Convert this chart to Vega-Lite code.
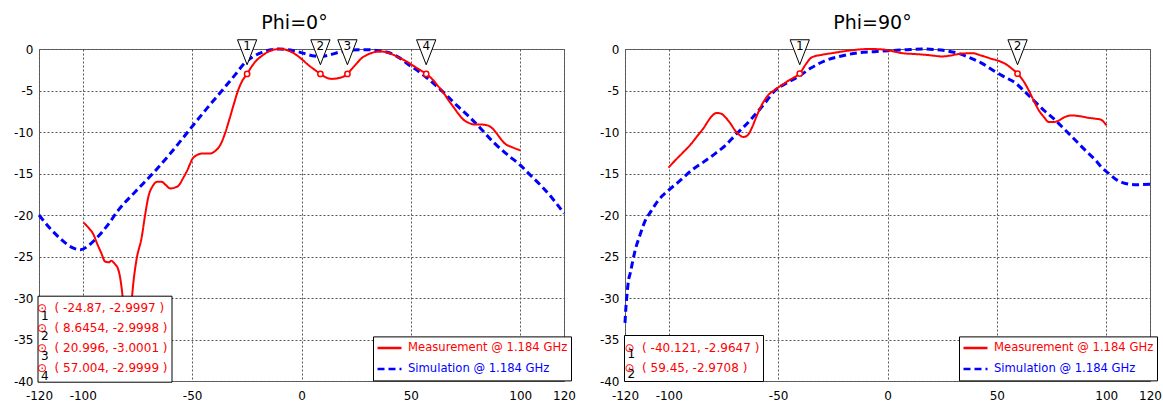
{
  "$schema": "https://vega.github.io/schema/vega-lite/v6.json",
  "padding": {"left": 12, "top": 13, "right": 5, "bottom": 5},
  "background": "white",
  "config": {
    "font": "DejaVu Sans",
    "view": {"stroke": "#666", "strokeWidth": 1},
    "axis": {"grid": true, "gridColor": "#555", "gridDash": [2, 2], "gridWidth": 1, "domain": false, "ticks": false, "tickSize": 0, "labelFontSize": 12, "labelColor": "#000", "labelFont": "DejaVu Sans", "title": null, "labelFlush": false, "labelOverlap": false, "labelExpr": "'' + datum.value"},
    "axisX": {"labelPadding": 9},
    "axisY": {"labelPadding": 6},
    "legend": {"labelLimit": 400},
    "title": {"fontSize": 19, "fontWeight": "normal", "color": "#000", "font": "DejaVu Sans", "anchor": "middle", "baseline": "alphabetic"}
  },
  "bounds": "flush",
  "spacing": 61,
  "resolve": {
    "scale": {"shape": "independent", "opacity": "independent"},
    "legend": {"color": "independent", "strokeDash": "independent", "shape": "independent", "opacity": "independent"}
  },
  "datasets": {
    "sim0": [
      {"series": "Simulation @ 1.184 GHz", "angle": -120, "gain": -20.0},
      {"series": "Simulation @ 1.184 GHz", "angle": -115, "gain": -21.6},
      {"series": "Simulation @ 1.184 GHz", "angle": -110, "gain": -22.9},
      {"series": "Simulation @ 1.184 GHz", "angle": -105, "gain": -23.9},
      {"series": "Simulation @ 1.184 GHz", "angle": -101, "gain": -24.2},
      {"series": "Simulation @ 1.184 GHz", "angle": -97, "gain": -23.6},
      {"series": "Simulation @ 1.184 GHz", "angle": -93, "gain": -22.6},
      {"series": "Simulation @ 1.184 GHz", "angle": -88, "gain": -21.0},
      {"series": "Simulation @ 1.184 GHz", "angle": -84, "gain": -19.5},
      {"series": "Simulation @ 1.184 GHz", "angle": -76, "gain": -17.2},
      {"series": "Simulation @ 1.184 GHz", "angle": -68, "gain": -15.0},
      {"series": "Simulation @ 1.184 GHz", "angle": -60, "gain": -12.6},
      {"series": "Simulation @ 1.184 GHz", "angle": -52, "gain": -10.0},
      {"series": "Simulation @ 1.184 GHz", "angle": -44, "gain": -7.4},
      {"series": "Simulation @ 1.184 GHz", "angle": -36, "gain": -4.9},
      {"series": "Simulation @ 1.184 GHz", "angle": -30, "gain": -3.0},
      {"series": "Simulation @ 1.184 GHz", "angle": -26, "gain": -1.7},
      {"series": "Simulation @ 1.184 GHz", "angle": -22, "gain": -0.9},
      {"series": "Simulation @ 1.184 GHz", "angle": -18, "gain": -0.4},
      {"series": "Simulation @ 1.184 GHz", "angle": -14, "gain": -0.1},
      {"series": "Simulation @ 1.184 GHz", "angle": -10, "gain": 0},
      {"series": "Simulation @ 1.184 GHz", "angle": -6, "gain": -0.1},
      {"series": "Simulation @ 1.184 GHz", "angle": -2, "gain": -0.3},
      {"series": "Simulation @ 1.184 GHz", "angle": 2, "gain": -0.6},
      {"series": "Simulation @ 1.184 GHz", "angle": 6, "gain": -0.85},
      {"series": "Simulation @ 1.184 GHz", "angle": 9, "gain": -0.9},
      {"series": "Simulation @ 1.184 GHz", "angle": 13, "gain": -0.7},
      {"series": "Simulation @ 1.184 GHz", "angle": 17, "gain": -0.4},
      {"series": "Simulation @ 1.184 GHz", "angle": 21, "gain": -0.2},
      {"series": "Simulation @ 1.184 GHz", "angle": 26, "gain": -0.1},
      {"series": "Simulation @ 1.184 GHz", "angle": 31, "gain": -0.1},
      {"series": "Simulation @ 1.184 GHz", "angle": 35, "gain": -0.2},
      {"series": "Simulation @ 1.184 GHz", "angle": 40, "gain": -0.45},
      {"series": "Simulation @ 1.184 GHz", "angle": 45, "gain": -1.1},
      {"series": "Simulation @ 1.184 GHz", "angle": 49, "gain": -1.9},
      {"series": "Simulation @ 1.184 GHz", "angle": 53, "gain": -2.6},
      {"series": "Simulation @ 1.184 GHz", "angle": 57, "gain": -3.4},
      {"series": "Simulation @ 1.184 GHz", "angle": 61, "gain": -4.3},
      {"series": "Simulation @ 1.184 GHz", "angle": 66, "gain": -5.5},
      {"series": "Simulation @ 1.184 GHz", "angle": 71, "gain": -6.8},
      {"series": "Simulation @ 1.184 GHz", "angle": 76, "gain": -8.0},
      {"series": "Simulation @ 1.184 GHz", "angle": 82, "gain": -9.6},
      {"series": "Simulation @ 1.184 GHz", "angle": 88, "gain": -11.3},
      {"series": "Simulation @ 1.184 GHz", "angle": 94, "gain": -12.7},
      {"series": "Simulation @ 1.184 GHz", "angle": 100, "gain": -14.0},
      {"series": "Simulation @ 1.184 GHz", "angle": 105, "gain": -15.3},
      {"series": "Simulation @ 1.184 GHz", "angle": 110, "gain": -16.6},
      {"series": "Simulation @ 1.184 GHz", "angle": 115, "gain": -18.1},
      {"series": "Simulation @ 1.184 GHz", "angle": 120, "gain": -19.8}
    ],
    "meas0": [
      {"series": "Measurement @ 1.184 GHz", "angle": -99.7, "gain": -20.9},
      {"series": "Measurement @ 1.184 GHz", "angle": -97.5, "gain": -21.5},
      {"series": "Measurement @ 1.184 GHz", "angle": -95, "gain": -22.4},
      {"series": "Measurement @ 1.184 GHz", "angle": -93.5, "gain": -23.4},
      {"series": "Measurement @ 1.184 GHz", "angle": -91.5, "gain": -24.6},
      {"series": "Measurement @ 1.184 GHz", "angle": -89.8, "gain": -25.6},
      {"series": "Measurement @ 1.184 GHz", "angle": -88, "gain": -25.7},
      {"series": "Measurement @ 1.184 GHz", "angle": -87, "gain": -25.5},
      {"series": "Measurement @ 1.184 GHz", "angle": -86, "gain": -25.7},
      {"series": "Measurement @ 1.184 GHz", "angle": -85, "gain": -26.0},
      {"series": "Measurement @ 1.184 GHz", "angle": -84, "gain": -26.4},
      {"series": "Measurement @ 1.184 GHz", "angle": -83, "gain": -27.4},
      {"series": "Measurement @ 1.184 GHz", "angle": -82, "gain": -29.3},
      {"series": "Measurement @ 1.184 GHz", "angle": -81, "gain": -32.0},
      {"series": "Measurement @ 1.184 GHz", "angle": -80, "gain": -34.5},
      {"series": "Measurement @ 1.184 GHz", "angle": -79, "gain": -34.0},
      {"series": "Measurement @ 1.184 GHz", "angle": -78, "gain": -31.5},
      {"series": "Measurement @ 1.184 GHz", "angle": -77, "gain": -28.5},
      {"series": "Measurement @ 1.184 GHz", "angle": -75.5, "gain": -25.5},
      {"series": "Measurement @ 1.184 GHz", "angle": -73, "gain": -22.6},
      {"series": "Measurement @ 1.184 GHz", "angle": -71.5, "gain": -20.0},
      {"series": "Measurement @ 1.184 GHz", "angle": -70, "gain": -17.8},
      {"series": "Measurement @ 1.184 GHz", "angle": -68, "gain": -16.5},
      {"series": "Measurement @ 1.184 GHz", "angle": -66, "gain": -16.0},
      {"series": "Measurement @ 1.184 GHz", "angle": -64, "gain": -16.0},
      {"series": "Measurement @ 1.184 GHz", "angle": -62, "gain": -16.4},
      {"series": "Measurement @ 1.184 GHz", "angle": -60, "gain": -16.8},
      {"series": "Measurement @ 1.184 GHz", "angle": -58, "gain": -16.7},
      {"series": "Measurement @ 1.184 GHz", "angle": -56, "gain": -16.4},
      {"series": "Measurement @ 1.184 GHz", "angle": -54, "gain": -15.5},
      {"series": "Measurement @ 1.184 GHz", "angle": -52, "gain": -14.5},
      {"series": "Measurement @ 1.184 GHz", "angle": -50, "gain": -13.3},
      {"series": "Measurement @ 1.184 GHz", "angle": -48, "gain": -12.8},
      {"series": "Measurement @ 1.184 GHz", "angle": -45.5, "gain": -12.6},
      {"series": "Measurement @ 1.184 GHz", "angle": -42, "gain": -12.6},
      {"series": "Measurement @ 1.184 GHz", "angle": -39.5, "gain": -12.3},
      {"series": "Measurement @ 1.184 GHz", "angle": -37, "gain": -11.5},
      {"series": "Measurement @ 1.184 GHz", "angle": -35, "gain": -10.2},
      {"series": "Measurement @ 1.184 GHz", "angle": -33, "gain": -8.5},
      {"series": "Measurement @ 1.184 GHz", "angle": -31, "gain": -6.7},
      {"series": "Measurement @ 1.184 GHz", "angle": -29, "gain": -5.0},
      {"series": "Measurement @ 1.184 GHz", "angle": -27, "gain": -3.8},
      {"series": "Measurement @ 1.184 GHz", "angle": -24.87, "gain": -2.9997},
      {"series": "Measurement @ 1.184 GHz", "angle": -23, "gain": -2.2},
      {"series": "Measurement @ 1.184 GHz", "angle": -21, "gain": -1.5},
      {"series": "Measurement @ 1.184 GHz", "angle": -18, "gain": -0.8},
      {"series": "Measurement @ 1.184 GHz", "angle": -15, "gain": -0.3},
      {"series": "Measurement @ 1.184 GHz", "angle": -12, "gain": -0.05},
      {"series": "Measurement @ 1.184 GHz", "angle": -9, "gain": 0},
      {"series": "Measurement @ 1.184 GHz", "angle": -6, "gain": -0.2},
      {"series": "Measurement @ 1.184 GHz", "angle": -3, "gain": -0.6},
      {"series": "Measurement @ 1.184 GHz", "angle": 0, "gain": -1.2},
      {"series": "Measurement @ 1.184 GHz", "angle": 3, "gain": -1.9},
      {"series": "Measurement @ 1.184 GHz", "angle": 6, "gain": -2.5},
      {"series": "Measurement @ 1.184 GHz", "angle": 8.6454, "gain": -2.9998},
      {"series": "Measurement @ 1.184 GHz", "angle": 11, "gain": -3.4},
      {"series": "Measurement @ 1.184 GHz", "angle": 14, "gain": -3.6},
      {"series": "Measurement @ 1.184 GHz", "angle": 17, "gain": -3.5},
      {"series": "Measurement @ 1.184 GHz", "angle": 20.996, "gain": -3.0001},
      {"series": "Measurement @ 1.184 GHz", "angle": 23, "gain": -2.4},
      {"series": "Measurement @ 1.184 GHz", "angle": 25, "gain": -1.8},
      {"series": "Measurement @ 1.184 GHz", "angle": 27.5, "gain": -1.1},
      {"series": "Measurement @ 1.184 GHz", "angle": 30, "gain": -0.7},
      {"series": "Measurement @ 1.184 GHz", "angle": 33, "gain": -0.4},
      {"series": "Measurement @ 1.184 GHz", "angle": 36, "gain": -0.3},
      {"series": "Measurement @ 1.184 GHz", "angle": 39, "gain": -0.4},
      {"series": "Measurement @ 1.184 GHz", "angle": 42, "gain": -0.7},
      {"series": "Measurement @ 1.184 GHz", "angle": 45, "gain": -1.1},
      {"series": "Measurement @ 1.184 GHz", "angle": 48, "gain": -1.5},
      {"series": "Measurement @ 1.184 GHz", "angle": 51, "gain": -2.0},
      {"series": "Measurement @ 1.184 GHz", "angle": 54, "gain": -2.5},
      {"series": "Measurement @ 1.184 GHz", "angle": 57.004, "gain": -2.9999},
      {"series": "Measurement @ 1.184 GHz", "angle": 60, "gain": -3.7},
      {"series": "Measurement @ 1.184 GHz", "angle": 62.5, "gain": -4.5},
      {"series": "Measurement @ 1.184 GHz", "angle": 65, "gain": -5.3},
      {"series": "Measurement @ 1.184 GHz", "angle": 67, "gain": -6.1},
      {"series": "Measurement @ 1.184 GHz", "angle": 69.5, "gain": -7.0},
      {"series": "Measurement @ 1.184 GHz", "angle": 72, "gain": -7.9},
      {"series": "Measurement @ 1.184 GHz", "angle": 74, "gain": -8.5},
      {"series": "Measurement @ 1.184 GHz", "angle": 76.5, "gain": -8.9},
      {"series": "Measurement @ 1.184 GHz", "angle": 79, "gain": -9.1},
      {"series": "Measurement @ 1.184 GHz", "angle": 82, "gain": -9.1},
      {"series": "Measurement @ 1.184 GHz", "angle": 85, "gain": -9.2},
      {"series": "Measurement @ 1.184 GHz", "angle": 87, "gain": -9.5},
      {"series": "Measurement @ 1.184 GHz", "angle": 89, "gain": -10.1},
      {"series": "Measurement @ 1.184 GHz", "angle": 91, "gain": -10.8},
      {"series": "Measurement @ 1.184 GHz", "angle": 93, "gain": -11.4},
      {"series": "Measurement @ 1.184 GHz", "angle": 96, "gain": -11.8},
      {"series": "Measurement @ 1.184 GHz", "angle": 100, "gain": -12.2}
    ],
    "sim90": [
      {"series": "Simulation @ 1.184 GHz", "angle": -120, "gain": -33.0},
      {"series": "Simulation @ 1.184 GHz", "angle": -119.6, "gain": -31.2},
      {"series": "Simulation @ 1.184 GHz", "angle": -119.2, "gain": -29.9},
      {"series": "Simulation @ 1.184 GHz", "angle": -118.4, "gain": -27.9},
      {"series": "Simulation @ 1.184 GHz", "angle": -117.5, "gain": -26.9},
      {"series": "Simulation @ 1.184 GHz", "angle": -116.5, "gain": -25.6},
      {"series": "Simulation @ 1.184 GHz", "angle": -115.4, "gain": -24.3},
      {"series": "Simulation @ 1.184 GHz", "angle": -113, "gain": -22.3},
      {"series": "Simulation @ 1.184 GHz", "angle": -110.8, "gain": -20.7},
      {"series": "Simulation @ 1.184 GHz", "angle": -108, "gain": -19.5},
      {"series": "Simulation @ 1.184 GHz", "angle": -104.7, "gain": -18.2},
      {"series": "Simulation @ 1.184 GHz", "angle": -100, "gain": -17.0},
      {"series": "Simulation @ 1.184 GHz", "angle": -95, "gain": -15.9},
      {"series": "Simulation @ 1.184 GHz", "angle": -89.5, "gain": -14.6},
      {"series": "Simulation @ 1.184 GHz", "angle": -84, "gain": -13.6},
      {"series": "Simulation @ 1.184 GHz", "angle": -78.8, "gain": -12.6},
      {"series": "Simulation @ 1.184 GHz", "angle": -74, "gain": -11.6},
      {"series": "Simulation @ 1.184 GHz", "angle": -69.7, "gain": -10.4},
      {"series": "Simulation @ 1.184 GHz", "angle": -65, "gain": -9.2},
      {"series": "Simulation @ 1.184 GHz", "angle": -60.5, "gain": -7.9},
      {"series": "Simulation @ 1.184 GHz", "angle": -56, "gain": -6.5},
      {"series": "Simulation @ 1.184 GHz", "angle": -51.4, "gain": -5.0},
      {"series": "Simulation @ 1.184 GHz", "angle": -46, "gain": -4.1},
      {"series": "Simulation @ 1.184 GHz", "angle": -40.6, "gain": -3.3},
      {"series": "Simulation @ 1.184 GHz", "angle": -35, "gain": -2.3},
      {"series": "Simulation @ 1.184 GHz", "angle": -28.5, "gain": -1.4},
      {"series": "Simulation @ 1.184 GHz", "angle": -22, "gain": -0.9},
      {"series": "Simulation @ 1.184 GHz", "angle": -13.2, "gain": -0.45},
      {"series": "Simulation @ 1.184 GHz", "angle": -5, "gain": -0.3},
      {"series": "Simulation @ 1.184 GHz", "angle": 0.5, "gain": -0.2},
      {"series": "Simulation @ 1.184 GHz", "angle": 8, "gain": -0.1},
      {"series": "Simulation @ 1.184 GHz", "angle": 15.8, "gain": 0},
      {"series": "Simulation @ 1.184 GHz", "angle": 21, "gain": -0.05},
      {"series": "Simulation @ 1.184 GHz", "angle": 26.5, "gain": -0.2},
      {"series": "Simulation @ 1.184 GHz", "angle": 32, "gain": -0.5},
      {"series": "Simulation @ 1.184 GHz", "angle": 37.2, "gain": -1.0},
      {"series": "Simulation @ 1.184 GHz", "angle": 43, "gain": -1.7},
      {"series": "Simulation @ 1.184 GHz", "angle": 47.8, "gain": -2.5},
      {"series": "Simulation @ 1.184 GHz", "angle": 53, "gain": -3.3},
      {"series": "Simulation @ 1.184 GHz", "angle": 58.5, "gain": -4.1},
      {"series": "Simulation @ 1.184 GHz", "angle": 63, "gain": -5.2},
      {"series": "Simulation @ 1.184 GHz", "angle": 67.6, "gain": -6.4},
      {"series": "Simulation @ 1.184 GHz", "angle": 72, "gain": -7.5},
      {"series": "Simulation @ 1.184 GHz", "angle": 76.8, "gain": -8.6},
      {"series": "Simulation @ 1.184 GHz", "angle": 81, "gain": -9.7},
      {"series": "Simulation @ 1.184 GHz", "angle": 85.9, "gain": -11.0},
      {"series": "Simulation @ 1.184 GHz", "angle": 90, "gain": -12.1},
      {"series": "Simulation @ 1.184 GHz", "angle": 95.1, "gain": -13.4},
      {"series": "Simulation @ 1.184 GHz", "angle": 98, "gain": -14.3},
      {"series": "Simulation @ 1.184 GHz", "angle": 101.2, "gain": -15.0},
      {"series": "Simulation @ 1.184 GHz", "angle": 105, "gain": -15.8},
      {"series": "Simulation @ 1.184 GHz", "angle": 108.8, "gain": -16.2},
      {"series": "Simulation @ 1.184 GHz", "angle": 113, "gain": -16.35},
      {"series": "Simulation @ 1.184 GHz", "angle": 120, "gain": -16.3}
    ],
    "meas90": [
      {"series": "Measurement @ 1.184 GHz", "angle": -100.1, "gain": -14.3},
      {"series": "Measurement @ 1.184 GHz", "angle": -97, "gain": -13.4},
      {"series": "Measurement @ 1.184 GHz", "angle": -94, "gain": -12.6},
      {"series": "Measurement @ 1.184 GHz", "angle": -90, "gain": -11.5},
      {"series": "Measurement @ 1.184 GHz", "angle": -86.4, "gain": -10.3},
      {"series": "Measurement @ 1.184 GHz", "angle": -84, "gain": -9.5},
      {"series": "Measurement @ 1.184 GHz", "angle": -81.8, "gain": -8.6},
      {"series": "Measurement @ 1.184 GHz", "angle": -80, "gain": -8.0},
      {"series": "Measurement @ 1.184 GHz", "angle": -78, "gain": -7.7},
      {"series": "Measurement @ 1.184 GHz", "angle": -76, "gain": -7.8},
      {"series": "Measurement @ 1.184 GHz", "angle": -74.2, "gain": -8.2},
      {"series": "Measurement @ 1.184 GHz", "angle": -72, "gain": -8.9},
      {"series": "Measurement @ 1.184 GHz", "angle": -69.7, "gain": -9.8},
      {"series": "Measurement @ 1.184 GHz", "angle": -67.5, "gain": -10.4},
      {"series": "Measurement @ 1.184 GHz", "angle": -65.8, "gain": -10.6},
      {"series": "Measurement @ 1.184 GHz", "angle": -64, "gain": -10.4},
      {"series": "Measurement @ 1.184 GHz", "angle": -62, "gain": -9.5},
      {"series": "Measurement @ 1.184 GHz", "angle": -60, "gain": -8.2},
      {"series": "Measurement @ 1.184 GHz", "angle": -57.4, "gain": -6.7},
      {"series": "Measurement @ 1.184 GHz", "angle": -55, "gain": -5.7},
      {"series": "Measurement @ 1.184 GHz", "angle": -51.4, "gain": -4.9},
      {"series": "Measurement @ 1.184 GHz", "angle": -48, "gain": -4.3},
      {"series": "Measurement @ 1.184 GHz", "angle": -45.2, "gain": -3.8},
      {"series": "Measurement @ 1.184 GHz", "angle": -42.5, "gain": -3.4},
      {"series": "Measurement @ 1.184 GHz", "angle": -40.121, "gain": -2.9647},
      {"series": "Measurement @ 1.184 GHz", "angle": -37.5, "gain": -1.9},
      {"series": "Measurement @ 1.184 GHz", "angle": -34.6, "gain": -1.0},
      {"series": "Measurement @ 1.184 GHz", "angle": -30, "gain": -0.7},
      {"series": "Measurement @ 1.184 GHz", "angle": -25.4, "gain": -0.5},
      {"series": "Measurement @ 1.184 GHz", "angle": -17.8, "gain": -0.2},
      {"series": "Measurement @ 1.184 GHz", "angle": -8.6, "gain": 0},
      {"series": "Measurement @ 1.184 GHz", "angle": -2.5, "gain": -0.05},
      {"series": "Measurement @ 1.184 GHz", "angle": 2, "gain": -0.25},
      {"series": "Measurement @ 1.184 GHz", "angle": 6.6, "gain": -0.5},
      {"series": "Measurement @ 1.184 GHz", "angle": 12, "gain": -0.6},
      {"series": "Measurement @ 1.184 GHz", "angle": 17.3, "gain": -0.7},
      {"series": "Measurement @ 1.184 GHz", "angle": 21, "gain": -0.8},
      {"series": "Measurement @ 1.184 GHz", "angle": 24.9, "gain": -0.9},
      {"series": "Measurement @ 1.184 GHz", "angle": 28.5, "gain": -0.8},
      {"series": "Measurement @ 1.184 GHz", "angle": 32.6, "gain": -0.6},
      {"series": "Measurement @ 1.184 GHz", "angle": 38.7, "gain": -0.5},
      {"series": "Measurement @ 1.184 GHz", "angle": 43, "gain": -0.8},
      {"series": "Measurement @ 1.184 GHz", "angle": 47.8, "gain": -1.2},
      {"series": "Measurement @ 1.184 GHz", "angle": 51, "gain": -1.45},
      {"series": "Measurement @ 1.184 GHz", "angle": 53.9, "gain": -1.8},
      {"series": "Measurement @ 1.184 GHz", "angle": 57, "gain": -2.4},
      {"series": "Measurement @ 1.184 GHz", "angle": 59.45, "gain": -2.9708},
      {"series": "Measurement @ 1.184 GHz", "angle": 62, "gain": -3.8},
      {"series": "Measurement @ 1.184 GHz", "angle": 64.6, "gain": -5.0},
      {"series": "Measurement @ 1.184 GHz", "angle": 67, "gain": -6.3},
      {"series": "Measurement @ 1.184 GHz", "angle": 69.2, "gain": -7.4},
      {"series": "Measurement @ 1.184 GHz", "angle": 71.5, "gain": -8.2},
      {"series": "Measurement @ 1.184 GHz", "angle": 73.8, "gain": -8.8},
      {"series": "Measurement @ 1.184 GHz", "angle": 76, "gain": -8.8},
      {"series": "Measurement @ 1.184 GHz", "angle": 78.4, "gain": -8.6},
      {"series": "Measurement @ 1.184 GHz", "angle": 81, "gain": -8.2},
      {"series": "Measurement @ 1.184 GHz", "angle": 84.4, "gain": -8.0},
      {"series": "Measurement @ 1.184 GHz", "angle": 88, "gain": -8.1},
      {"series": "Measurement @ 1.184 GHz", "angle": 92.1, "gain": -8.3},
      {"series": "Measurement @ 1.184 GHz", "angle": 95, "gain": -8.4},
      {"series": "Measurement @ 1.184 GHz", "angle": 97.4, "gain": -8.5},
      {"series": "Measurement @ 1.184 GHz", "angle": 100.1, "gain": -9.2}
    ],
    "mk0": [
      {"id": 1, "angle": -24.87, "gain": -2.9997, "label": "( -24.87, -2.9997 )"},
      {"id": 2, "angle": 8.6454, "gain": -2.9998, "label": "( 8.6454, -2.9998 )"},
      {"id": 3, "angle": 20.996, "gain": -3.0001, "label": "( 20.996, -3.0001 )"},
      {"id": 4, "angle": 57.004, "gain": -2.9999, "label": "( 57.004, -2.9999 )"}
    ],
    "mk90": [
      {"id": 1, "angle": -40.121, "gain": -2.9647, "label": "( -40.121, -2.9647 )"},
      {"id": 2, "angle": 59.45, "gain": -2.9708, "label": "( 59.45, -2.9708 )"}
    ]
  },
  "hconcat": [
    {
      "width": 525,
      "height": 332,
      "title": {"text": "Phi=0°", "offset": 5, "dx": -7},
      "layer": [
        {
          "data": {"name": "sim0"},
          "mark": {"type": "line", "interpolate": "monotone", "strokeWidth": 3},
          "encoding": {
            "x": {"field": "angle", "type": "quantitative", "scale": {"domain": [-120, 120], "nice": false}, "axis": {"values": [-120, -100, -50, 0, 50, 100, 120]}},
            "y": {"field": "gain", "type": "quantitative", "scale": {"domain": [-40, 0], "nice": false}, "axis": {"values": [0, -5, -10, -15, -20, -25, -30, -35, -40]}},
            "color": {"field": "series", "type": "nominal", "scale": {"domain": ["Measurement @ 1.184 GHz", "Simulation @ 1.184 GHz"], "range": ["#ff0000", "#0000ff"]},
              "legend": {"title": null, "orient": "none", "legendX": 334, "legendY": 287.4, "fillColor": "white", "strokeColor": "black", "padding": 3, "symbolType": "stroke", "symbolSize": 576, "symbolStrokeWidth": 2.5, "labelFontSize": 11.6, "labelOffset": 5, "labelLimit": 400, "clipHeight": 17, "rowPadding": 4, "zindex": 1, "labelColor": {"expr": "datum.value == 'Measurement @ 1.184 GHz' ? '#ff0000' : '#0000ff'"}}},
            "strokeDash": {"field": "series", "type": "nominal", "scale": {"domain": ["Measurement @ 1.184 GHz", "Simulation @ 1.184 GHz"], "range": [[1, 0], [7, 4]]},
              "legend": {"title": null, "orient": "none", "legendX": 334, "legendY": 287.4, "fillColor": "white", "strokeColor": "black", "padding": 3, "symbolType": "stroke", "symbolSize": 576, "symbolStrokeWidth": 2.5, "labelFontSize": 11.6, "labelOffset": 5, "labelLimit": 400, "clipHeight": 17, "rowPadding": 4, "zindex": 1, "labelColor": {"expr": "datum.value == 'Measurement @ 1.184 GHz' ? '#ff0000' : '#0000ff'"}}}
          }
        },
        {
          "data": {"name": "meas0"},
          "mark": {"type": "line", "interpolate": "monotone", "strokeWidth": 2},
          "encoding": {
            "x": {"field": "angle", "type": "quantitative"},
            "y": {"field": "gain", "type": "quantitative"},
            "color": {"field": "series", "type": "nominal"},
            "strokeDash": {"field": "series", "type": "nominal"}
          }
        },
        {
          "data": {"name": "mk0"},
          "mark": {"type": "point", "filled": true, "fill": "white", "stroke": "#ff0000", "strokeWidth": 1.5, "size": 28, "opacity": 1},
          "encoding": {
            "x": {"field": "angle", "type": "quantitative"},
            "y": {"field": "gain", "type": "quantitative"},
            "shape": {"field": "label", "type": "nominal", "sort": {"field": "id", "op": "min"}, "scale": {"range": ["circle"]},
              "legend": {"title": null, "orient": "none", "legendX": -1.5, "legendY": 246.7, "fillColor": "white", "strokeColor": "black", "padding": 3, "symbolSize": 0, "symbolStrokeWidth": 0, "labelColor": "#ff0000", "labelFontSize": 12, "labelOffset": -15.6, "labelExpr": "'⊙\u00a0\u00a0' + datum.label", "clipHeight": 19.3, "rowPadding": 0, "zindex": 1}},
            "opacity": {"field": "id", "type": "ordinal", "scale": {"range": [1, 1]},
              "legend": {"title": null, "orient": "none", "legendX": -10, "legendY": 257.4, "padding": 0, "symbolSize": 0, "symbolStrokeWidth": 0, "labelColor": "#000", "labelFontSize": 12, "labelBaseline": "middle", "labelOffset": 0, "clipHeight": 19.5, "rowPadding": 0, "zindex": 2}}
          }
        },
        {
          "data": {"name": "mk0"},
          "mark": {"type": "point", "shape": "M-0.77,-0.74L0.77,-0.74L0,1.26Z", "size": 625, "filled": true, "fill": "white", "stroke": "black", "strokeWidth": 1, "opacity": 1},
          "encoding": {
            "x": {"field": "angle", "type": "quantitative"},
            "y": {"datum": 0}
          }
        },
        {
          "data": {"name": "mk0"},
          "mark": {"type": "text", "fontSize": 12, "dy": -3, "baseline": "middle", "color": "#000"},
          "encoding": {
            "x": {"field": "angle", "type": "quantitative"},
            "y": {"datum": 0},
            "text": {"field": "id"}
          }
        }
      ]
    },
    {
      "width": 525,
      "height": 332,
      "title": {"text": "Phi=90°", "offset": 5, "dx": -15},
      "layer": [
        {
          "data": {"name": "sim90"},
          "mark": {"type": "line", "interpolate": "monotone", "strokeWidth": 3},
          "encoding": {
            "x": {"field": "angle", "type": "quantitative", "scale": {"domain": [-120, 120], "nice": false}, "axis": {"values": [-120, -100, -50, 0, 50, 100, 120]}},
            "y": {"field": "gain", "type": "quantitative", "scale": {"domain": [-40, 0], "nice": false}, "axis": {"values": [0, -5, -10, -15, -20, -25, -30, -35, -40]}},
            "color": {"field": "series", "type": "nominal", "scale": {"domain": ["Measurement @ 1.184 GHz", "Simulation @ 1.184 GHz"], "range": ["#ff0000", "#0000ff"]},
              "legend": {"title": null, "orient": "none", "legendX": 334, "legendY": 287.4, "fillColor": "white", "strokeColor": "black", "padding": 3, "symbolType": "stroke", "symbolSize": 576, "symbolStrokeWidth": 2.5, "labelFontSize": 11.6, "labelOffset": 5, "labelLimit": 400, "clipHeight": 17, "rowPadding": 4, "zindex": 1, "labelColor": {"expr": "datum.value == 'Measurement @ 1.184 GHz' ? '#ff0000' : '#0000ff'"}}},
            "strokeDash": {"field": "series", "type": "nominal", "scale": {"domain": ["Measurement @ 1.184 GHz", "Simulation @ 1.184 GHz"], "range": [[1, 0], [7, 4]]},
              "legend": {"title": null, "orient": "none", "legendX": 334, "legendY": 287.4, "fillColor": "white", "strokeColor": "black", "padding": 3, "symbolType": "stroke", "symbolSize": 576, "symbolStrokeWidth": 2.5, "labelFontSize": 11.6, "labelOffset": 5, "labelLimit": 400, "clipHeight": 17, "rowPadding": 4, "zindex": 1, "labelColor": {"expr": "datum.value == 'Measurement @ 1.184 GHz' ? '#ff0000' : '#0000ff'"}}}
          }
        },
        {
          "data": {"name": "meas90"},
          "mark": {"type": "line", "interpolate": "monotone", "strokeWidth": 2},
          "encoding": {
            "x": {"field": "angle", "type": "quantitative"},
            "y": {"field": "gain", "type": "quantitative"},
            "color": {"field": "series", "type": "nominal"},
            "strokeDash": {"field": "series", "type": "nominal"}
          }
        },
        {
          "data": {"name": "mk90"},
          "mark": {"type": "point", "filled": true, "fill": "white", "stroke": "#ff0000", "strokeWidth": 1.5, "size": 28, "opacity": 1},
          "encoding": {
            "x": {"field": "angle", "type": "quantitative"},
            "y": {"field": "gain", "type": "quantitative"},
            "shape": {"field": "label", "type": "nominal", "sort": {"field": "id", "op": "min"}, "scale": {"range": ["circle"]},
              "legend": {"title": null, "orient": "none", "legendX": -1, "legendY": 286, "fillColor": "white", "strokeColor": "black", "padding": 3, "symbolSize": 0, "symbolStrokeWidth": 0, "labelColor": "#ff0000", "labelFontSize": 12, "labelOffset": -14.6, "labelExpr": "'⊙\u00a0\u00a0' + datum.label", "clipHeight": 20, "rowPadding": 0, "zindex": 1}},
            "opacity": {"field": "id", "type": "ordinal", "scale": {"range": [1, 1]},
              "legend": {"title": null, "orient": "none", "legendX": -9.5, "legendY": 294.7, "padding": 0, "symbolSize": 0, "symbolStrokeWidth": 0, "labelColor": "#000", "labelFontSize": 12, "labelBaseline": "middle", "labelOffset": 0, "clipHeight": 20, "rowPadding": 0, "zindex": 2}}
          }
        },
        {
          "data": {"name": "mk90"},
          "mark": {"type": "point", "shape": "M-0.77,-0.74L0.77,-0.74L0,1.26Z", "size": 625, "filled": true, "fill": "white", "stroke": "black", "strokeWidth": 1, "opacity": 1},
          "encoding": {
            "x": {"field": "angle", "type": "quantitative"},
            "y": {"datum": 0}
          }
        },
        {
          "data": {"name": "mk90"},
          "mark": {"type": "text", "fontSize": 12, "dy": -3, "baseline": "middle", "color": "#000"},
          "encoding": {
            "x": {"field": "angle", "type": "quantitative"},
            "y": {"datum": 0},
            "text": {"field": "id"}
          }
        }
      ]
    }
  ]
}
